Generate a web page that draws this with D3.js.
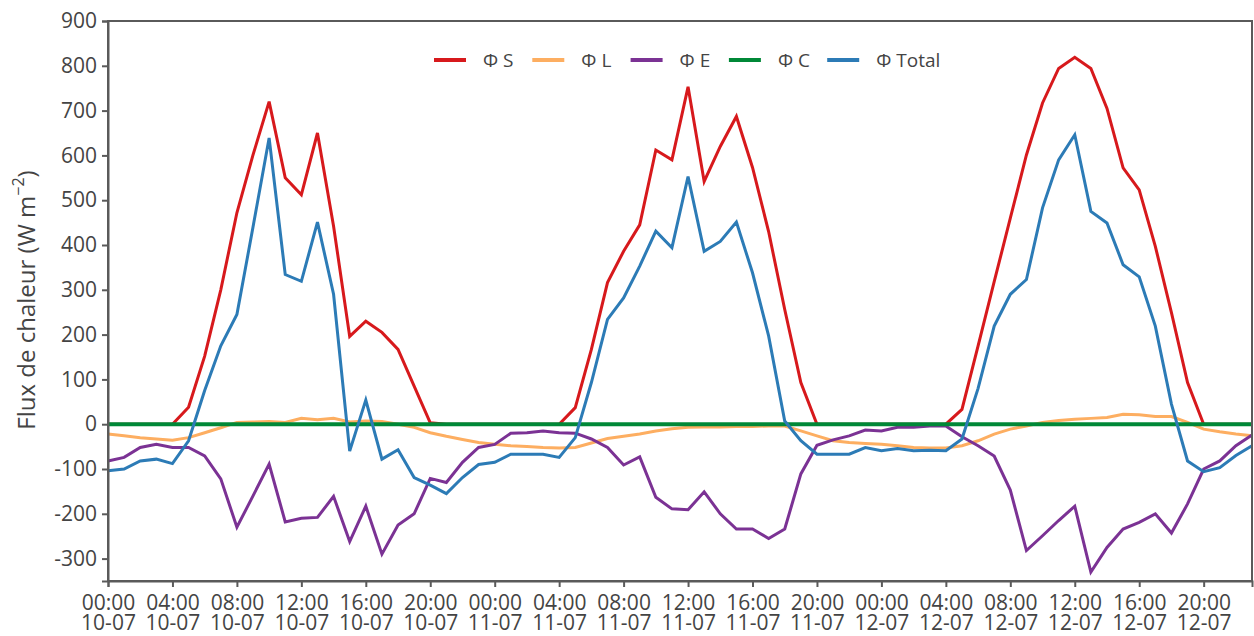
<!DOCTYPE html>
<html>
<head>
<meta charset="utf-8">
<script src="https://cdn.jsdelivr.net/npm/d3@7"></script>
<style>
  html, body { margin: 0; padding: 0; background: #fff; }
  svg { display: block; font-family: "Open Sans", "Noto Sans", sans-serif; }
</style>
</head>
<body>
<svg id="chart" width="1254" height="636"></svg>
<script>
// Hour index from 00:00 10-07 (hourly samples)
const hours = d3.range(72);

const phiS = [0,0,0,0,0,38,152,300,472,601,720,550,512,650,442,196,230,205,167,85,3,0,0,0,
              0,0,0,0,0,37,167,316,386,445,612,590,753,542,620,687,573,430,256,93,0,0,0,0,
              0,0,0,0,0,33,175,318,460,601,717,794,819,794,705,572,523,397,249,93,0,0,0,0];
const phiL = [-22,-26,-30,-33,-36,-30,-19,-8,4,5,6,4,13,10,13,5,7,6,0,-7,-19,-27,-34,-41,
              -45,-48,-50,-52,-53,-52,-42,-32,-27,-22,-15,-10,-7,-6,-6,-5,-5,-4,-4,-15,-26,-37,-41,-43,
              -45,-48,-52,-53,-53,-48,-37,-22,-11,-4,4,8,11,13,15,22,21,17,17,4,-11,-17,-22,-26];
const phiE = [-82,-74,-52,-45,-52,-52,-71,-122,-230,-160,-89,-218,-210,-208,-161,-262,-183,-290,-225,-200,-121,-130,-85,-52,
              -45,-20,-19,-15,-19,-20,-33,-52,-91,-73,-163,-189,-191,-151,-200,-234,-234,-255,-234,-111,-47,-35,-26,-13,
              -15,-7,-7,-4,-4,-28,-48,-71,-147,-282,-249,-215,-183,-330,-275,-234,-219,-200,-243,-178,-100,-82,-48,-24];
const phiC = [0,0,0,0,0,0,0,0,0,0,0,0,0,0,0,0,0,0,0,0,0,0,0,0,
              0,0,0,0,0,0,0,0,0,0,0,0,0,0,0,0,0,0,0,0,0,0,0,0,
              0,0,0,0,0,0,0,0,0,0,0,0,0,0,0,0,0,0,0,0,0,0,0,0];
const phiTotal = [-104,-100,-82,-78,-88,-37,75,175,245,440,639,334,319,451,290,-60,54,-78,-57,-119,-136,-155,-119,-90,
                  -85,-67,-67,-67,-74,-30,93,234,282,353,431,394,553,386,408,451,338,197,7,-37,-67,-67,-67,-52,
                  -59,-54,-59,-58,-59,-33,80,219,290,323,483,590,646,475,449,356,329,219,45,-82,-106,-97,-70,-48];

const seriesNames = ["\u03A6 S", "\u03A6 L", "\u03A6 E", "\u03A6 C", "\u03A6 Total"];
const seriesColors = ["#d7191c", "#fdae61", "#7b3294", "#008837", "#2c7bb6"];

const yTicks = [-300,-200,-100,0,100,200,300,400,500,600,700,800,900];
const xTickHours = [0,4,8,12,16,20,24,28,32,36,40,44,48,52,56,60,64,68];
const xTickTimes = ["00:00","04:00","08:00","12:00","16:00","20:00",
                    "00:00","04:00","08:00","12:00","16:00","20:00",
                    "00:00","04:00","08:00","12:00","16:00","20:00"];
const xTickDates = ["10-07","10-07","10-07","10-07","10-07","10-07",
                    "11-07","11-07","11-07","11-07","11-07","11-07",
                    "12-07","12-07","12-07","12-07","12-07","12-07"];
const yLabel = "Flux de chaleur (W m";

const allSeries = [phiS, phiL, phiE, phiC, phiTotal];

const svg = d3.select("#chart");
const mLeft = 108, mRight = 1252, mTop = 21, mBottom = 581;

const x = d3.scaleLinear().domain([0, 71]).range([mLeft, mRight]);
const y = d3.scaleLinear().domain([-350, 900]).range([mBottom, mTop]);

const axisColor = "#5a5a5a";
const textColor = "#444";
const fontSize = 21;

// lines
const line = d3.line().x((d, i) => x(hours[i])).y(d => y(d));
const g = svg.append("g");
allSeries.forEach((s, k) => {
  g.append("path")
    .datum(s)
    .attr("fill", "none")
    .attr("stroke", seriesColors[k])
    .attr("stroke-width", k === 3 ? 4 : 3)
    .attr("stroke-linejoin", "miter")
    .attr("d", line);
});

// frame
svg.append("rect")
  .attr("x", mLeft).attr("y", mTop)
  .attr("width", mRight - mLeft).attr("height", mBottom - mTop)
  .attr("fill", "none").attr("stroke", axisColor).attr("stroke-width", 2);

// y axis
const yAxis = svg.append("g")
  .attr("transform", `translate(${mLeft},0)`)
  .call(d3.axisLeft(y).tickValues(yTicks).tickSize(6).tickPadding(5).tickFormat(d => String(d)));
yAxis.select(".domain").attr("stroke", axisColor).attr("stroke-width", 2);
yAxis.selectAll(".tick line").attr("stroke", axisColor).attr("stroke-width", 2);
yAxis.selectAll(".tick text").attr("fill", textColor).style("font-size", fontSize + "px")
  .style("font-family", "'Open Sans', sans-serif");

// x axis
const xAxis = svg.append("g")
  .attr("transform", `translate(0,${mBottom})`)
  .call(d3.axisBottom(x).tickValues(xTickHours).tickSize(6).tickFormat(""));
xAxis.select(".domain").attr("stroke", axisColor).attr("stroke-width", 2);
xAxis.selectAll(".tick line").attr("stroke", axisColor).attr("stroke-width", 2);
xAxis.selectAll(".tick").each(function(d, i) {
  const gt = d3.select(this);
  gt.append("text")
    .attr("fill", textColor)
    .attr("text-anchor", "middle")
    .attr("y", 29)
    .style("font-size", fontSize + "px")
    .style("font-family", "'Open Sans', sans-serif")
    .text(xTickTimes[i]);
  gt.append("text")
    .attr("fill", textColor)
    .attr("text-anchor", "middle")
    .attr("y", 49)
    .style("font-size", fontSize + "px")
    .style("font-family", "'Open Sans', sans-serif")
    .text(xTickDates[i]);
});

// y label
const yl = svg.append("text")
  .attr("transform", "translate(35,300) rotate(-90)")
  .attr("text-anchor", "middle")
  .attr("fill", textColor)
  .style("font-size", "24px")
  .style("font-family", "'Open Sans', sans-serif");
yl.append("tspan").text(yLabel);
yl.append("tspan").attr("dy", -11).style("font-size", "16px").text("\u22122");
yl.append("tspan").attr("dy", 11).text(")");

// legend
const legend = svg.append("g").attr("transform", "translate(434,60)");
seriesNames.forEach((name, k) => {
  const item = legend.append("g").attr("transform", `translate(${k * 98.3},0)`);
  item.append("line").attr("x1", 0).attr("x2", 32).attr("y1", 0).attr("y2", 0)
    .attr("stroke", seriesColors[k]).attr("stroke-width", 4);
  item.append("text").attr("x", 49).attr("y", 7)
    .attr("fill", textColor)
    .style("font-size", "19px")
    .style("font-family", "'Open Sans', sans-serif")
    .text(name);
});
</script>
</body>
</html>
